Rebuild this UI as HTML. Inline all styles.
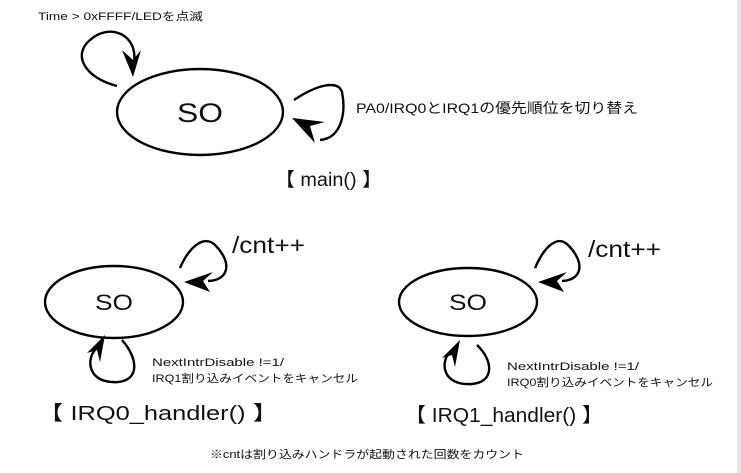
<!DOCTYPE html>
<html><head><meta charset="utf-8"><style>
html,body{margin:0;padding:0;background:#fff;}
svg{display:block;}
text{font-family:"Liberation Sans","Noto Sans CJK JP",sans-serif;fill:#111;}
</style></head><body>
<svg width="741" height="473" viewBox="0 0 741 473" xmlns="http://www.w3.org/2000/svg">
<rect x="737" y="0" width="4" height="473" fill="#e6e6e6"/>
<g fill="none" stroke="#000" stroke-width="2.4">
<ellipse cx="200" cy="112" rx="83" ry="43"/>
<ellipse cx="114" cy="302" rx="69" ry="36"/>
<ellipse cx="468" cy="302" rx="69" ry="34"/>
<path d="M117,86 C85,78 72,55 90,40 C110,22 138,35 134,62"/>
<path d="M294,100 C318,84 338,80 342,92 C346,112 342,138 320,140"/>
<path d="M180,268 C190,245 205,235 215,245 C232,262 230,280 208,281"/>
<path d="M122,340 C138,358 140,380 118,382 C88,384 86,360 95,350"/>
<path d="M535,268 C545,245 558,235 568,245 C585,262 583,280 562,281"/>
<path d="M477,345 C493,360 495,382 472,384 C442,386 440,362 450,352"/>
</g>
<g fill="#000">
<polygon points="133,77 122,50 133,60 141,50"/>
<polygon points="292,118 325,122 310,126 315,143"/>
<polygon points="184,282 213,272 203,281 210,292"/>
<polygon points="105,335 100,362 97,350 87,353"/>
<polygon points="538,282 567,272 557,281 564,292"/>
<polygon points="460,340 455,367 452,355 442,358"/>
</g>
<g lengthAdjust="spacingAndGlyphs">
<text x="38" y="20" font-size="11" textLength="165" lengthAdjust="spacingAndGlyphs">Time &gt; 0xFFFF/LEDを点滅</text>
<text x="177" y="122" font-size="27" textLength="46" lengthAdjust="spacingAndGlyphs">SO</text>
<text x="356" y="113" font-size="14" textLength="282" lengthAdjust="spacingAndGlyphs">PA0/IRQ0とIRQ1の優先順位を切り替え</text>
<text x="275" y="186" font-size="19" textLength="107" lengthAdjust="spacingAndGlyphs">【 main() 】</text>
<text x="95" y="310" font-size="22" textLength="38" lengthAdjust="spacingAndGlyphs">SO</text>
<text x="232" y="253" font-size="23" textLength="73" lengthAdjust="spacingAndGlyphs">/cnt++</text>
<text x="152" y="366" font-size="11" textLength="132" lengthAdjust="spacingAndGlyphs">NextIntrDisable !=1/</text>
<text x="152" y="382" font-size="11" textLength="206" lengthAdjust="spacingAndGlyphs">IRQ1割り込みイベントをキャンセル</text>
<text x="38" y="420" font-size="20" textLength="240" lengthAdjust="spacingAndGlyphs">【 IRQ0_handler() 】</text>
<text x="449" y="310" font-size="22" textLength="38" lengthAdjust="spacingAndGlyphs">SO</text>
<text x="588" y="257" font-size="23" textLength="73" lengthAdjust="spacingAndGlyphs">/cnt++</text>
<text x="507" y="370" font-size="11" textLength="132" lengthAdjust="spacingAndGlyphs">NextIntrDisable !=1/</text>
<text x="507" y="386" font-size="11" textLength="206" lengthAdjust="spacingAndGlyphs">IRQ0割り込みイベントをキャンセル</text>
<text x="405" y="422" font-size="20" textLength="198" lengthAdjust="spacingAndGlyphs">【 IRQ1_handler() 】</text>
<text x="210" y="458" font-size="11" textLength="314" lengthAdjust="spacingAndGlyphs">※cntは割り込みハンドラが起動された回数をカウント</text>
</g>
</svg>
</body></html>
